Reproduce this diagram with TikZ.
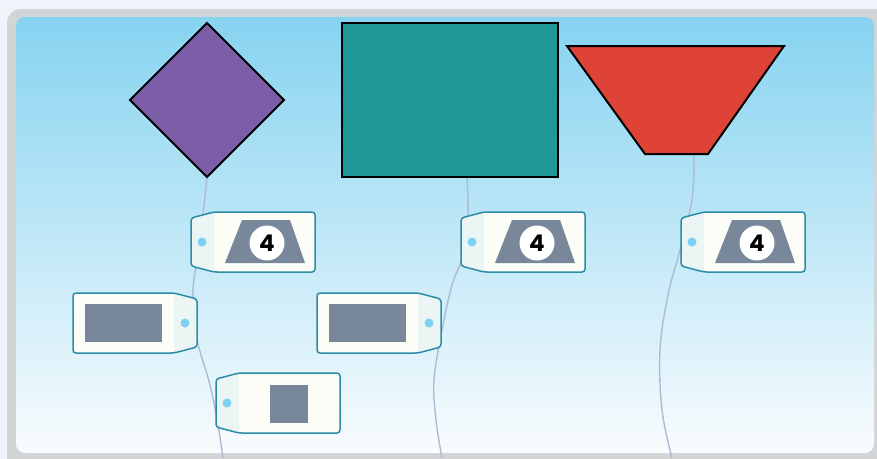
\documentclass[tikz,border=0pt]{standalone}
\usepackage{fontspec}
\newfontfamily\numfont{Poppins}
\definecolor{pagebg}{HTML}{EEF4FA}
\definecolor{framec}{HTML}{D3D4D6}
\definecolor{skytop}{HTML}{86D3F0}
\definecolor{skymid}{HTML}{C8E9F3}
\definecolor{skybot}{HTML}{F9FCFE}
\definecolor{purp}{HTML}{7B5EA7}
\definecolor{tealc}{HTML}{1E9898}
\definecolor{redc}{HTML}{DF4237}
\definecolor{tagedge}{HTML}{2A8CA6}
\definecolor{cream}{HTML}{FDFDF7}
\definecolor{stubc}{HTML}{EBF5F4}
\definecolor{greyc}{HTML}{78879A}
\definecolor{holec}{HTML}{7DD0F2}
\definecolor{stringc}{HTML}{AFBAD3}
\tikzset{
  tagline/.style={draw=tagedge, line width=1.5pt, rounded corners=3pt},
  stringline/.style={draw=stringc, line width=1.4pt},
  shapeline/.style={draw=black, line width=2pt, line join=miter},
  numlabel/.style={circle, fill=white, minimum size=35pt, inner sep=0pt, font=\numfont\bfseries\fontsize{23}{23}\selectfont, text=black},
  pics/tagL/.style={code={
    \fill[cream, rounded corners=3pt] (23,0) -- (124,0) -- (124,60) -- (23,60) -- (0,54) -- (0,6) -- cycle;
    \fill[stubc] (23,0.7) -- (0.7,6.5) -- (0.7,53.5) -- (23,59.3) -- cycle;
    \draw[tagline] (23,0) -- (124,0) -- (124,60) -- (23,60) -- (0,54) -- (0,6) -- cycle;
    \fill[holec] (11,30) circle (4.5pt);
    \coordinate (-hole) at (11,30);
  }},
  pics/tagR/.style={code={
    \fill[cream, rounded corners=3pt] (101,0) -- (0,0) -- (0,60) -- (101,60) -- (124,54) -- (124,6) -- cycle;
    \fill[stubc] (101,0.7) -- (123.3,6.5) -- (123.3,53.5) -- (101,59.3) -- cycle;
    \draw[tagline] (101,0) -- (0,0) -- (0,60) -- (101,60) -- (124,54) -- (124,6) -- cycle;
    \fill[holec] (112,30) circle (4.5pt);
    \coordinate (-hole) at (112,30);
  }},
  pics/tagtrap/.style={code={
    \pic {tagL};
    \fill[greyc] (34,51) -- (114,51) -- (99,8) -- (51,8) -- cycle;
    \node[numlabel] (-num) at (76,31) {4};
  }},
  pics/tagrect/.style={code={
    \pic {tagR};
    \fill[greyc] (12,11) rectangle (89,49);
  }},
  pics/tagsq/.style={code={
    \pic {tagL};
    \fill[greyc] (54,12) rectangle (92,50);
  }},
}
\begin{document}
\begin{tikzpicture}[x=1pt,y=-1pt]
  \useasboundingbox (0,0) rectangle (877,458);
  \clip (0,0) rectangle (877,458);
  \fill[pagebg] (-5,-5) rectangle (885,465);
  \fill[framec, rounded corners=14pt] (7,9) rectangle (897,480);
  \shade[top color=skytop, middle color=skymid, bottom color=skybot, rounded corners=9pt] (16,17) rectangle (874,453);

  % anchor points of the strings
  \coordinate (dia-bot) at (207,177);
  \coordinate (rect-bot) at (467,177);
  \coordinate (trap-bot) at (694,154);
  \coordinate (end1) at (223,458);
  \coordinate (end2) at (442,458);
  \coordinate (end3) at (672,458);

  % strings
  \draw[stringline] plot[smooth, tension=0.6] coordinates {(dia-bot) (203,215) (199,250) (193,290) (196,335) (210,385) (218,425) (end1)};
  \draw[stringline] plot[smooth, tension=0.6] coordinates {(rect-bot) (468,215) (463,255) (452,285) (442,330) (434,380) (436,420) (end2)};
  \draw[stringline] plot[smooth, tension=0.6] coordinates {(trap-bot) (692,200) (680,250) (668,295) (660,350) (662,410) (end3)};

  % shapes
  \draw[shapeline, fill=purp] (207,23) -- (284,100) -- (207,177) -- (130,100) -- cycle;
  \draw[shapeline, fill=tealc] (342,23) rectangle (558,177);
  \draw[shapeline, fill=redc] (567,46) -- (784,46) -- (708,154) -- (645,154) -- cycle;

  % tags
  \pic (t1) at (191,212) {tagtrap};
  \pic (t2) at (73,293) {tagrect};
  \pic (t3) at (216,373) {tagsq};
  \pic (t4) at (461,212) {tagtrap};
  \pic (t5) at (317,293) {tagrect};
  \pic (t6) at (681,212) {tagtrap};
\end{tikzpicture}
\end{document}
